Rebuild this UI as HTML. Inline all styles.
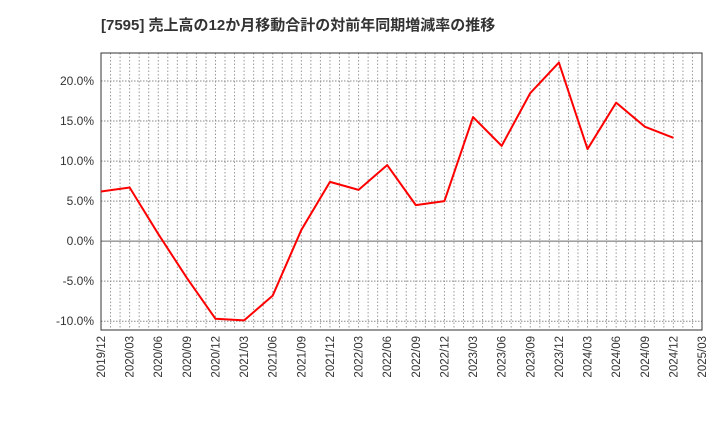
<!DOCTYPE html>
<html><head><meta charset="utf-8"><style>
body{margin:0;background:#fff;width:720px;height:440px;overflow:hidden}
text{font-family:"Liberation Sans","Noto Sans CJK JP",sans-serif}
</style></head><body>
<svg id="c" width="720" height="440">
<text x="101" y="30" font-size="15" font-weight="bold" fill="#333">[7595]  売上高の12か月移動合計の対前年同期増減率の推移</text>
</svg>
<script>
const categories=["2019/12","2020/03","2020/06","2020/09","2020/12","2021/03","2021/06","2021/09","2021/12","2022/03","2022/06","2022/09","2022/12","2023/03","2023/06","2023/09","2023/12","2024/03","2024/06","2024/09","2024/12"];
const values=[6.2,6.7,0.9,-4.6,-9.7,-9.9,-6.8,1.4,7.4,6.4,9.5,4.5,5.0,15.5,11.9,18.5,22.3,11.5,17.3,14.3,12.9];
const xTickLabels=["2019/12","2020/03","2020/06","2020/09","2020/12","2021/03","2021/06","2021/09","2021/12","2022/03","2022/06","2022/09","2022/12","2023/03","2023/06","2023/09","2023/12","2024/03","2024/06","2024/09","2024/12","2025/03"];
const yTicks=[-10,-5,0,5,10,15,20];
const L=101,R=702,T=53,B=330,yMax=23.5,yMin=-11.1;
const nQ=xTickLabels.length-1;
const x=i=>L+(R-L)*i/nQ;
const y=v=>T+(yMax-v)/(yMax-yMin)*(B-T);
const svg=document.getElementById('c');const NS='http://www.w3.org/2000/svg';
function mk(t,a,p){const e=document.createElementNS(NS,t);for(const k in a)e.setAttribute(k,a[k]);(p||svg).appendChild(e);return e;}
for(let m=1;m<nQ*3;m++){const xx=L+(R-L)*m/(nQ*3);
const g=mk('line',{x1:xx,x2:xx,y1:T,y2:B,stroke:'#999','stroke-dasharray':'1.5,2','stroke-width':1});

}
yTicks.forEach(v=>{const yy=y(v);
const g=mk('line',{x1:L,x2:R,y1:yy,y2:yy,stroke:v===0?'#666':'#888','stroke-dasharray':v===0?'':'1.5,1.5','stroke-width':1});


const t=mk('text',{x:L-7,y:yy+4,'text-anchor':'end','font-size':12,fill:'#333'});t.textContent=v.toFixed(1)+'%';

});
const fr=mk('rect',{x:L,y:T,width:R-L,height:B-T,fill:'none',stroke:'#333','stroke-width':1});


xTickLabels.forEach((s,i)=>{const xx=x(i);
const t=mk('text',{x:0,y:0,'text-anchor':'end','font-size':11.5,fill:'#333',transform:`translate(${xx+4},${B+6}) rotate(-90)`});t.textContent=s;

});
const pts=values.map((v,i)=>x(categories.indexOf(categories[i]))+','+y(v)).join(' ');
const pl=mk('polyline',{points:pts,fill:'none',stroke:'#f00','stroke-width':2,'stroke-linejoin':'round'});


</script>
</body></html>
